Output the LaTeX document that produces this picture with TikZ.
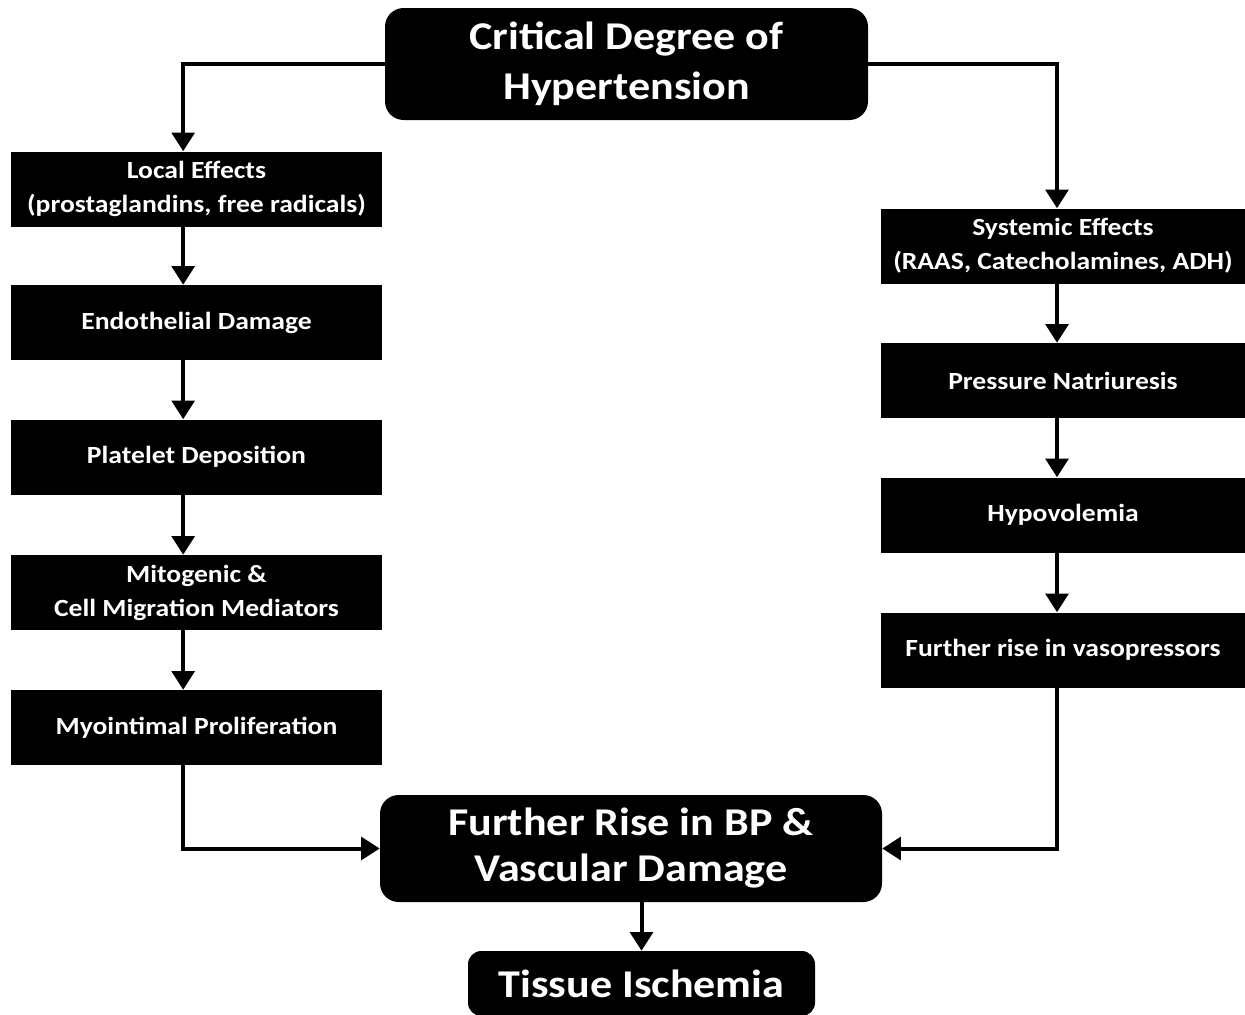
\documentclass[tikz,border=0pt]{standalone}
\usepackage{fontspec}
\setmainfont{Carlito}[FakeStretch=1.12]
\usetikzlibrary{arrows.meta}
\begin{document}
\begin{tikzpicture}[x=0.75pt,y=-0.75pt,
  box/.style={fill=black, draw=none, text=white, align=center, inner sep=0pt},
  smallbox/.style={box, font=\bfseries\fontsize{18.5}{25.5}\selectfont, minimum height=56.25pt},
  leftbox/.style={smallbox, minimum width=278.25pt},
  rightbox/.style={smallbox, minimum width=273pt},
  bigbox/.style={box, rounded corners=14pt, font=\bfseries\fontsize{29.5}{34.5}\selectfont},
  conn/.style={line width=3pt, -{Triangle[width=17pt,length=14pt]}}
]
\useasboundingbox (0,0) rectangle (1245,1014);
\fill[white] (0,0) rectangle (1245,1014);

\node[bigbox, font=\bfseries\fontsize{29.5}{37.5}\selectfont, minimum width=362.25pt, minimum height=84pt] (top) at (626.5,64) {Critical Degree of\\Hypertension};

\node[leftbox] (L1) at (196.5,189) {Local Effects\\(prostaglandins, free radicals)};
\node[leftbox] (L2) at (196.5,322.5) {Endothelial Damage};
\node[leftbox] (L3) at (196.5,457) {Platelet Deposition};
\node[leftbox] (L4) at (196.5,592.5) {Mitogenic \&\\Cell Migration Mediators};
\node[leftbox] (L5) at (196.5,727.5) {Myointimal Proliferation};

\node[rightbox] (R1) at (1063,246) {Systemic Effects\\(RAAS, Catecholamines, ADH)};
\node[rightbox] (R2) at (1063,380.5) {Pressure Natriuresis};
\node[rightbox] (R3) at (1063,515) {Hypovolemia};
\node[rightbox] (R4) at (1063,650) {Further rise in vasopressors};

\node[bigbox, minimum width=376.5pt, minimum height=80.25pt] (FR) at (631,848.5) {Further Rise in BP \&\\Vascular Damage};
\node[bigbox, rounded corners=10pt, minimum width=260.25pt, minimum height=48.75pt] (TI) at (641.5,983.5) {Tissue Ischemia};

\draw[conn] (top.west) -| ([xshift=-10pt]L1.north);
\draw[conn] (top.east) -| ([xshift=-4.5pt]R1.north);

\draw[conn] ([xshift=-10pt]L1.south) -- ([xshift=-10pt]L2.north);
\draw[conn] ([xshift=-10pt]L2.south) -- ([xshift=-10pt]L3.north);
\draw[conn] ([xshift=-10pt]L3.south) -- ([xshift=-10pt]L4.north);
\draw[conn] ([xshift=-10pt]L4.south) -- ([xshift=-10pt]L5.north);

\draw[conn] ([xshift=-4.5pt]R1.south) -- ([xshift=-4.5pt]R2.north);
\draw[conn] ([xshift=-4.5pt]R2.south) -- ([xshift=-4.5pt]R3.north);
\draw[conn] ([xshift=-4.5pt]R3.south) -- ([xshift=-4.5pt]R4.north);

\draw[conn] ([xshift=-10pt]L5.south) |- (FR.west);
\draw[conn] ([xshift=-4.5pt]R4.south) |- (FR.east);
\draw[conn] (FR.south -| TI.north) -- (TI.north);
\end{tikzpicture}
\end{document}
